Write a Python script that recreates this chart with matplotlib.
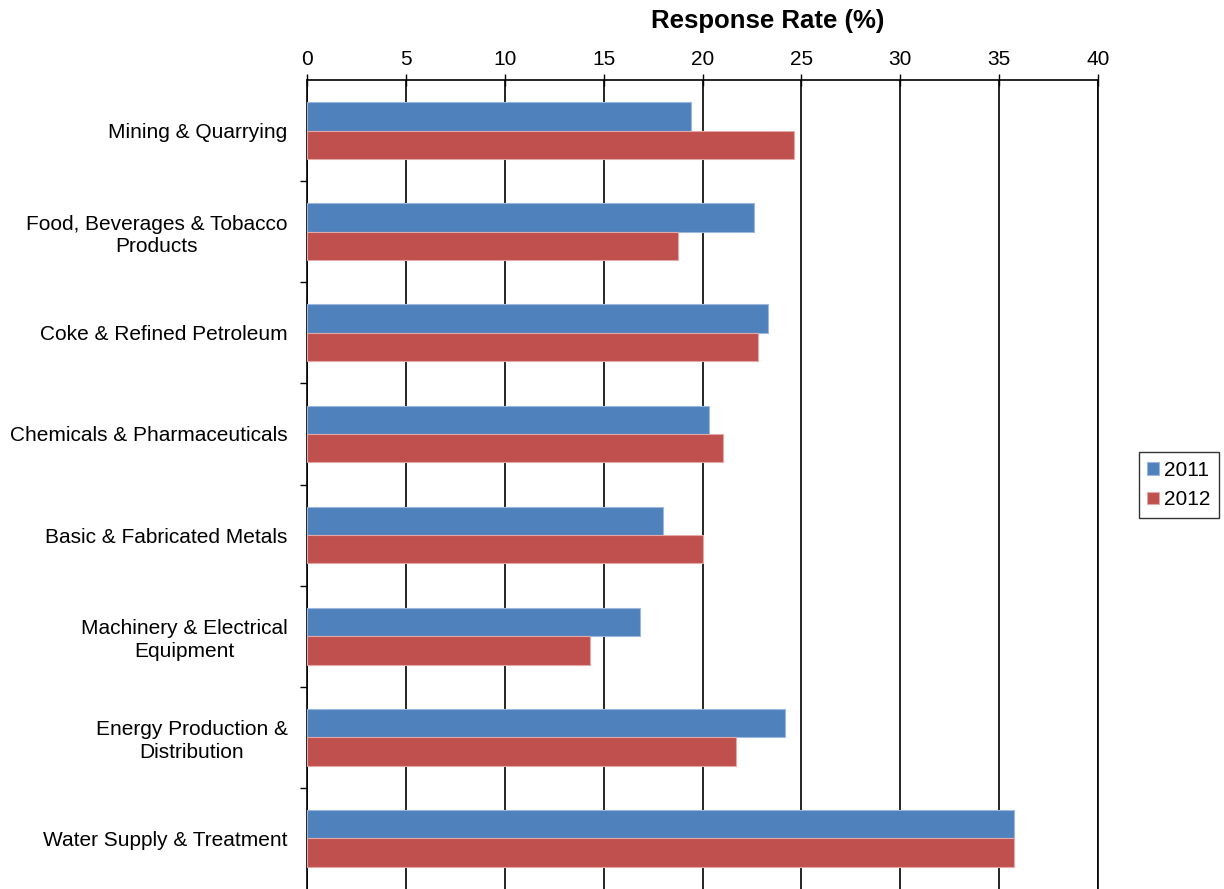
import numpy as np
import matplotlib.pyplot as plt
from matplotlib.ticker import MultipleLocator

plt.rcParams['font.family'] = ['Liberation Sans', 'DejaVu Sans']

categories = ['Mining & Quarrying', 'Food, Beverages & Tobacco\nProducts',
              'Coke & Refined Petroleum', 'Chemicals & Pharmaceuticals',
              'Basic & Fabricated Metals', 'Machinery & Electrical\nEquipment',
              'Energy Production &\nDistribution', 'Water Supply & Treatment']
rate_2011 = [19.4, 22.6, 23.3, 20.35, 18.0, 16.85, 24.15, 35.75]
rate_2012 = [24.65, 18.75, 22.8, 21.05, 20.0, 14.3, 21.7, 35.75]

fig = plt.figure(figsize=(12.24, 8.89), dpi=100)
ax = fig.add_axes([307/1224, 0.0, (1098-307)/1224, (889-80)/889])

y = np.arange(len(categories))
h = 0.28
ax.barh(y - h/2, rate_2011, height=h, color='#4F81BD', edgecolor='#9BB7DD', linewidth=0.8, label='2011', zorder=3)
ax.barh(y + h/2, rate_2012, height=h, color='#C0504D', edgecolor='#E3A9A8', linewidth=0.8, label='2012', zorder=3)

ax.set_xlim(0, 40)
ax.set_ylim(len(categories) - 0.5, -0.5)
ax.xaxis.set_major_locator(MultipleLocator(5))
ax.xaxis.tick_top()
ax.tick_params(axis='x', which='major', direction='inout', length=8, width=1, labelsize=15, pad=4)
ax.grid(axis='x', color='black', linewidth=1.2, zorder=0)

ax.set_yticks(y)
ax.set_yticklabels(categories, fontsize=15, multialignment='center', linespacing=1.25)
ax.set_yticks(np.arange(0.5, len(categories) - 0.5, 1), minor=True)
ax.tick_params(axis='y', which='major', length=0, pad=14)
ax.tick_params(axis='y', which='minor', direction='out', length=5, width=1)

ax.spines['bottom'].set_visible(False)
for s in ['top', 'left', 'right']:
    ax.spines[s].set_linewidth(1.2)

fig.text(768/1224, 1 - 21/889, 'Response Rate (%)', fontsize=18.5, fontweight='bold', ha='center', va='center')

leg = fig.legend(loc='center', bbox_to_anchor=(1179/1224, 1 - 485/889), fontsize=15,
                 frameon=True, fancybox=False, edgecolor='black', handlelength=0.55, handleheight=0.55,
                 handletextpad=0.25, borderpad=0.4, labelspacing=0.5)
leg.get_frame().set_linewidth(1.0)

fig.savefig('out.png', dpi=100)
